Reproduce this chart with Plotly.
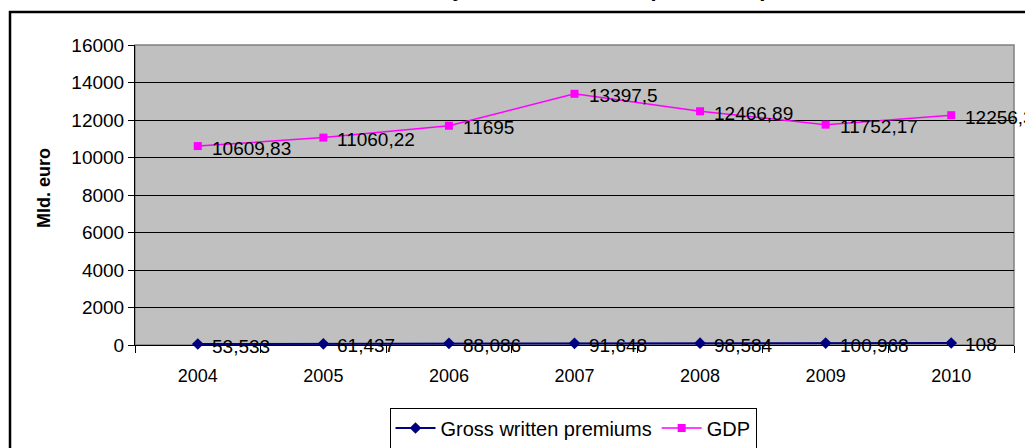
import plotly.graph_objects as go

# Data
years = ["2004", "2005", "2006", "2007", "2008", "2009", "2010"]
premiums = [53.533, 61.437, 88.086, 91.648, 98.584, 100.968, 108]
gdp = [10609.83, 11060.22, 11695, 13397.5, 12466.89, 11752.17, 12256.3]
y_ticks = [0, 2000, 4000, 6000, 8000, 10000, 12000, 14000, 16000]

title_text = "GWP and GDP dynamics in the EU (2004-2010)"
y_title = "Mld. euro"

W, H = 1025, 448
L, R, T, B = 135, 11, 45, 103
PW, PH = W - L - R, H - T - B


def px_x(p):
    return (p - L) / PW


def px_y(p):
    return (H - B - p) / PH


def fmt(v):
    s = ("%.3f" % v).rstrip("0").rstrip(".")
    return s.replace(".", ",")


xs = list(range(len(years)))
FONT = "Liberation Sans, Arial, sans-serif"

fig = go.Figure()
fig.add_trace(go.Scatter(
    x=xs, y=premiums, name="Gross written premiums", mode="lines+markers",
    line=dict(color="#000080", width=2),
    marker=dict(symbol="diamond", size=9, color="#000080"),
    cliponaxis=False,
))
fig.add_trace(go.Scatter(
    x=xs, y=gdp, name="GDP", mode="lines+markers",
    line=dict(color="#FF00FF", width=1.5),
    marker=dict(symbol="square", size=8, color="#FF00FF"),
    cliponaxis=False,
))

annotations = []
for series in (premiums, gdp):
    for x, v in zip(xs, series):
        annotations.append(dict(
            x=x, y=v, xref="x", yref="y", text=fmt(v), showarrow=False,
            xanchor="left", yanchor="middle", xshift=12, yshift=-2,
            font=dict(family=FONT, size=19, color="black"),
        ))

# chart title (sits at the very top edge of the canvas)
annotations.append(dict(
    x=px_x(280), y=px_y(-12), xref="paper", yref="paper", text="<b>" + title_text + "</b>",
    showarrow=False, xanchor="left", yanchor="middle",
    font=dict(family=FONT, size=22, color="black"),
))
# y-axis title
annotations.append(dict(
    x=px_x(44), y=px_y(188), xref="paper", yref="paper", text="<b>" + y_title + "</b>",
    showarrow=False, textangle=-90, xanchor="center", yanchor="middle",
    font=dict(family=FONT, size=18, color="black"),
))

shapes = [
    # plot area frame
    dict(type="rect", xref="paper", yref="paper", x0=0, y0=0, x1=1, y1=1,
         line=dict(color="#808080", width=1.5), layer="below"),
    # outer chart frame
    dict(type="rect", xref="paper", yref="paper",
         x0=px_x(10), y0=px_y(470), x1=px_x(1040), y1=px_y(12),
         line=dict(color="black", width=2.5), fillcolor="rgba(0,0,0,0)"),
]

fig.update_layout(
    width=W, height=H,
    margin=dict(l=L, r=R, t=T, b=B, pad=0, autoexpand=False),
    paper_bgcolor="white", plot_bgcolor="#C0C0C0",
    font=dict(family=FONT, size=18, color="black"),
    showlegend=True,
    legend=dict(
        orientation="h", x=px_x(573), y=px_y(428), xanchor="center", yanchor="middle",
        bgcolor="white", bordercolor="black", borderwidth=1,
        font=dict(family=FONT, size=20, color="black"),
        itemwidth=40,
    ),
    annotations=annotations,
    shapes=shapes,
    xaxis=dict(
        range=[-0.5, len(years) - 0.5], tickvals=xs, ticktext=years,
        ticks="", showgrid=False, zeroline=False,
        showline=True, linecolor="black", linewidth=1,
        tickfont=dict(family=FONT, size=18),
        ticklabelstandoff=14,
        minor=dict(tick0=-0.5, dtick=1, ticks="outside", ticklen=7,
                   tickcolor="black", tickwidth=1, showgrid=False),
        fixedrange=True,
    ),
    yaxis=dict(
        range=[0, 16000], tickvals=y_ticks, ticktext=[str(t) for t in y_ticks],
        ticks="outside", ticklen=6, tickcolor="black",
        showgrid=True, gridcolor="black", gridwidth=1,
        zeroline=False, showline=True, linecolor="black", linewidth=1,
        tickfont=dict(family=FONT, size=19),
        fixedrange=True,
    ),
)

fig.write_html("out.html")
